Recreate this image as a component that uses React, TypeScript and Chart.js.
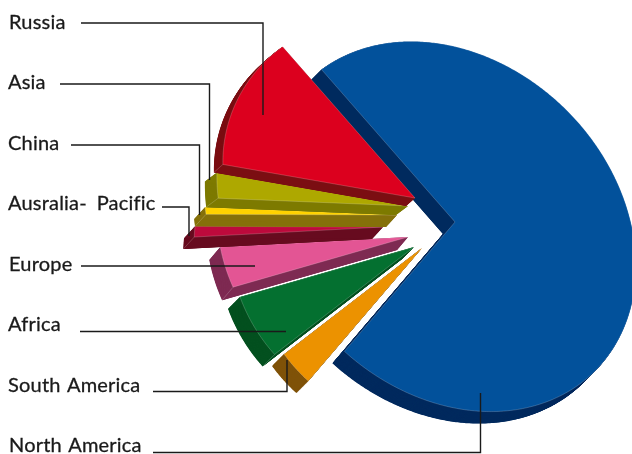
import React, { useEffect, useRef } from "react";
import { Chart, registerables } from "chart.js";

Chart.register(...registerables);

// Share of each region, in the order the slices run clockwise from the top-left edge.
const regions = ["North America", "South America", "Africa", "Europe", "Ausralia- Pacific", "China", "Asia", "Russia"];
const shares = [72.7, 3.3, 6.0, 3.6, 0.9, 0.6, 2.1, 10.8];

// Face and wall colours per slice.
const faceColors = ["#02519b", "#ec9200", "#047030", "#e35594", "#bd0a3c", "#ffd200", "#aea800", "#dc001e"];
const wallColors = ["#002a5e", "#7f5208", "#03501f", "#7e2a52", "#670b1f", "#85700a", "#7d7a00", "#7b0e12"];

// Exploded geometry of each slice: tip position, radii at both ends, outward bulge, extrusion.
const sliceShapes = [
  { x: 455, y: 222, r0: 0, r1: 0, bulge: 0, dx: -12, dy: 12, oval: { cx: 451, cy: 226.5, a: 204, b: 164, tilt: 45 } },
  { x: 422, y: 248, r0: 175, r1: 174, bulge: 0, dx: -12, dy: 12 },
  { x: 414, y: 247, r0: 176, r1: 181, bulge: 0, dx: -12, dy: 12 },
  { x: 408, y: 237, r0: 182, r1: 188, bulge: 0, dx: -11, dy: 13 },
  { x: 383, y: 227, r0: 189, r1: 188, bulge: 0, dx: -11, dy: 12 },
  { x: 397, y: 215, r0: 191, r1: 192, bulge: 0, dx: -11, dy: 12 },
  { x: 408, y: 206, r0: 190, r1: 194, bulge: 0, dx: -12, dy: 9 },
  { x: 415, y: 198, r0: 195, r1: 201, bulge: 5, dx: -9, dy: 8 },
];

// Label text position and its leader line, top to bottom.
const labelLayout = [
  { text: "Russia", x: 9, y: 29, gap: 0, path: [[81, 23], [263, 23], [263, 115]] },
  { text: "Asia", x: 8, y: 89, gap: 0, path: [[60, 84], [209.5, 84], [209.5, 180]] },
  { text: "China", x: 8, y: 150, gap: 0, path: [[71, 145], [199.5, 145], [199.5, 215]] },
  { text: "Ausralia- Pacific", x: 8, y: 210, gap: 4.5, path: [[162, 207], [189, 207], [189, 236]] },
  { text: "Europe", x: 9, y: 271, gap: 0, path: [[81, 266], [255, 266]] },
  { text: "Africa", x: 8, y: 331, gap: 0, path: [[80, 331.5], [286, 331.5]] },
  { text: "South America", x: 8, y: 392, gap: 1, path: [[153, 391.5], [287, 391.5], [287, 360]] },
  { text: "North America", x: 9, y: 452, gap: 1, path: [[153, 452.5], [480.5, 452.5], [480.5, 393]] },
];

const LABEL_FONT = "20px Lato";
const LABEL_SPACING = "0.2px";

function outerRadius(shape: any, angle: number, t: number) {
  if (!shape.oval) {
    return shape.r0 + (shape.r1 - shape.r0) * t + shape.bulge * 4 * t * (1 - t);
  }
  // Distance from the tip along the ray to a tilted ellipse.
  const { cx, cy, a, b, tilt } = shape.oval;
  const phi = (tilt * Math.PI) / 180;
  const ox = shape.x - cx;
  const oy = shape.y - cy;
  const px = ox * Math.cos(phi) + oy * Math.sin(phi);
  const py = -ox * Math.sin(phi) + oy * Math.cos(phi);
  const ux = Math.cos(angle - phi);
  const uy = Math.sin(angle - phi);
  const A = (ux * ux) / (a * a) + (uy * uy) / (b * b);
  const B = 2 * ((px * ux) / (a * a) + (py * uy) / (b * b));
  const C = (px * px) / (a * a) + (py * py) / (b * b) - 1;
  return (-B + Math.sqrt(B * B - 4 * A * C)) / (2 * A);
}

function faceOutline(shape: any, start: number, end: number) {
  const steps = Math.max(2, Math.ceil(((end - start) * 180) / Math.PI / 0.5));
  const pts: number[][] = [];
  for (let i = 0; i <= steps; i++) {
    const t = i / steps;
    const angle = start + (end - start) * t;
    const r = outerRadius(shape, angle, t);
    pts.push([shape.x + r * Math.cos(angle), shape.y + r * Math.sin(angle)]);
  }
  return pts;
}

function tracePolygon(ctx: CanvasRenderingContext2D, pts: number[][]) {
  ctx.beginPath();
  pts.forEach(([x, y], i) => (i ? ctx.lineTo(x, y) : ctx.moveTo(x, y)));
  ctx.closePath();
}

// Replaces the flat arcs with extruded, individually displaced wedges.
const extrudedPie = {
  id: "extrudedPie",
  beforeDatasetDraw(chart: any) {
    const ctx: CanvasRenderingContext2D = chart.ctx;
    const arcs = chart.getDatasetMeta(0).data;
    arcs.forEach((arc: any, i: number) => {
      const shape = sliceShapes[i];
      const rim = faceOutline(shape, arc.startAngle, arc.endAngle);
      const tip = [shape.x, shape.y];
      const face = [tip, ...rim];
      const moved = ([x, y]: number[]) => [x + shape.dx, y + shape.dy];
      ctx.save();
      // Sweep the face along the extrusion vector, back to front, to build the walls.
      const sweep = 40;
      ctx.fillStyle = wallColors[i];
      for (let s = sweep; s >= 1; s--) {
        const k = s / sweep;
        tracePolygon(ctx, face.map(([x, y]) => [x + shape.dx * k, y + shape.dy * k]));
        ctx.fill();
      }
      // The two straight walls as solid quads, so the thin tips stay clean.
      [rim[0], rim[rim.length - 1]].forEach((end) => {
        tracePolygon(ctx, [tip, end, moved(end), moved(tip)]);
        ctx.fill();
      });
      ctx.fillStyle = faceColors[i];
      tracePolygon(ctx, face);
      ctx.fill();
      // Thin highlight along the front edges of the solid.
      ctx.strokeStyle = "rgba(255,255,255,0.28)";
      ctx.lineWidth = 0.7;
      tracePolygon(ctx, face);
      ctx.stroke();
      const corner = rim[0];
      ctx.beginPath();
      ctx.moveTo(corner[0], corner[1]);
      ctx.lineTo(corner[0] + shape.dx, corner[1] + shape.dy);
      ctx.stroke();
      ctx.restore();
    });
    return false;
  },
  afterDraw(chart: any) {
    const ctx: CanvasRenderingContext2D = chart.ctx;
    ctx.save();
    ctx.lineCap = "butt";
    ctx.font = LABEL_FONT;
    (ctx as any).letterSpacing = LABEL_SPACING;
    ctx.textBaseline = "alphabetic";
    labelLayout.forEach(({ text, x, y, gap, path }) => {
      (ctx as any).wordSpacing = `${gap}px`;
      ctx.fillStyle = "#1a1a1a";
      ctx.strokeStyle = "#1a1a1a";
      ctx.lineWidth = 0.3;
      ctx.fillText(text, x, y);
      ctx.strokeText(text, x, y);
      ctx.lineWidth = 1.4;
      ctx.beginPath();
      path.forEach(([px, py], i) => (i ? ctx.lineTo(px, py) : ctx.moveTo(px, py)));
      ctx.stroke();
    });
    ctx.restore();
  },
};

export default function App() {
  const canvasRef = useRef<HTMLCanvasElement>(null);

  useEffect(() => {
    const chart = new Chart(canvasRef.current as HTMLCanvasElement, {
      type: "pie",
      data: {
        labels: regions,
        datasets: [{ data: shares, backgroundColor: faceColors, borderWidth: 0 }],
      },
      options: {
        responsive: false,
        animation: false,
        rotation: -41.2,
        layout: { padding: 0 },
        plugins: { legend: { display: false }, tooltip: { enabled: false } },
      },
      plugins: [extrudedPie],
    } as any);
    return () => chart.destroy();
  }, []);

  return (
    <div style={{ position: "fixed", left: 0, top: 0, width: 632, height: 454, overflow: "hidden", background: "#fff" }}>
      <canvas ref={canvasRef} width={632} height={454} style={{ display: "block" }} />
    </div>
  );
}
